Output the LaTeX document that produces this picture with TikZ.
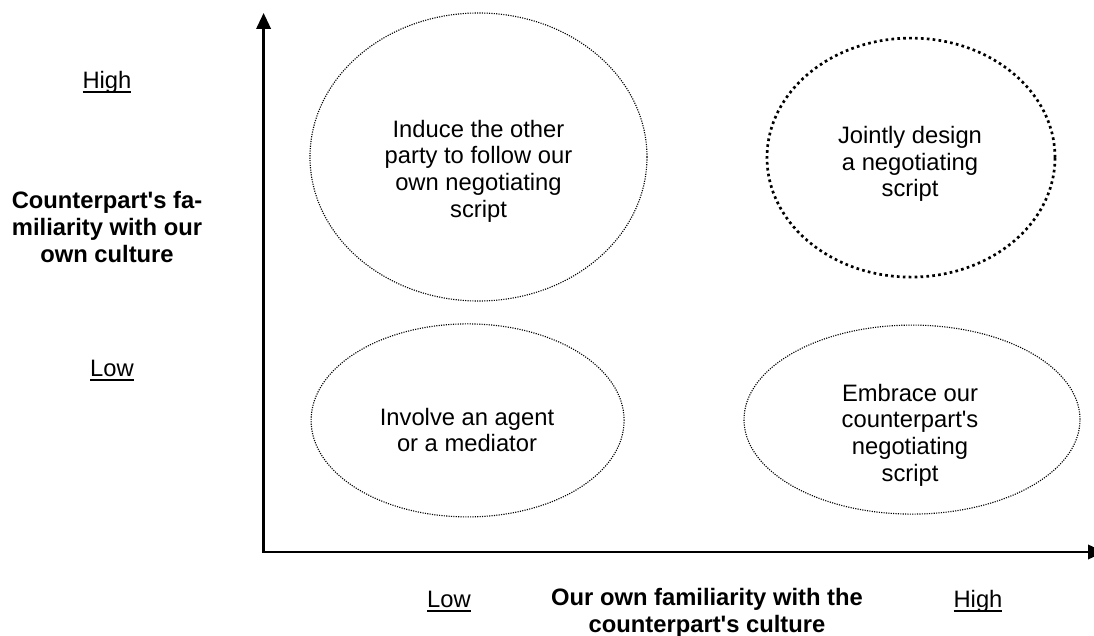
\documentclass[tikz,border=0pt]{standalone}
\usepackage{fontspec}
\setmainfont{Liberation Sans}
\usetikzlibrary{arrows.meta,shapes.geometric}

\newcommand{\levelline}[1]{\setbox0\hbox{#1}\rlap{\vrule width\wd0 height -0.1em depth 0.18em}\box0}
\newcommand{\apos}{\XeTeXglyph\the\XeTeXcharglyph"27\relax}

\tikzset{
  oval/.style={ellipse, draw, line width=0.8pt, dash pattern=on 0.8pt off 0.9pt, inner sep=0pt},
  thickoval/.style={ellipse, draw, line width=1.9pt, dash pattern=on 1.9pt off 2.3pt, inner sep=0pt},
  label/.style={align=center, font=\fontsize{16.9pt}{19pt}\selectfont},
  title/.style={label, font=\fontsize{16.9pt}{18.9pt}\selectfont\bfseries},
  level/.style={anchor=base, font=\fontsize{16.9pt}{19pt}\selectfont},
  axis/.style={line width=1.8pt, line join=miter, {Triangle[length=0.4cm, width=0.36cm]}-{Triangle[length=0.4cm, width=0.36cm]}}
}

\begin{document}
\begin{tikzpicture}
\useasboundingbox (0,0) rectangle (27.35,15.9);

\coordinate (ytop) at (6.59,15.575);
\coordinate (origin) at (6.59,2.1);
\coordinate (xend) at (27.6,2.1);
\draw [axis] (ytop) -- (origin) -- (xend);

\node [oval, minimum width=8.425cm, minimum height=7.2cm] (induce) at (11.9625,11.975) {};
\node [oval, minimum width=7.825cm, minimum height=4.825cm] (involve) at (11.69,5.39) {};
\node [thickoval, minimum width=7.2cm, minimum height=5.975cm] (jointly) at (22.775,11.96) {};
\node [oval, minimum width=8.4cm, minimum height=4.725cm] (embrace) at (22.8,5.41) {};

\node [label] (induce text) at (11.9625,11.625) {Induce the other\\party to follow our\\own negotiating\\script};
\node [label] (involve text) at (11.675,5.15) {Involve an agent\\or a mediator};
\node [label] (jointly text) at (22.75,11.8) {Jointly design\\a negotiating\\script};
\node [label] (embrace text) at (22.75,5.025) {Embrace our\\counterpart\apos s\\negotiating\\script};

\node [level] (y high) at (2.675,13.675) {\levelline{High}};
\node [level] (y low) at (2.8,6.475) {\levelline{Low}};
\node [title] (y title) at (2.675,10.225) {Counterpart\apos s fa-\\miliarity with our\\own culture};

\node [level] (x low) at (11.225,0.7) {\levelline{Low}};
\node [level] (x high) at (24.45,0.7) {\levelline{High}};
\node [title] (x title) at (17.675,0.575) {Our own familiarity with the\\counterpart\apos s culture};
\end{tikzpicture}
\end{document}
